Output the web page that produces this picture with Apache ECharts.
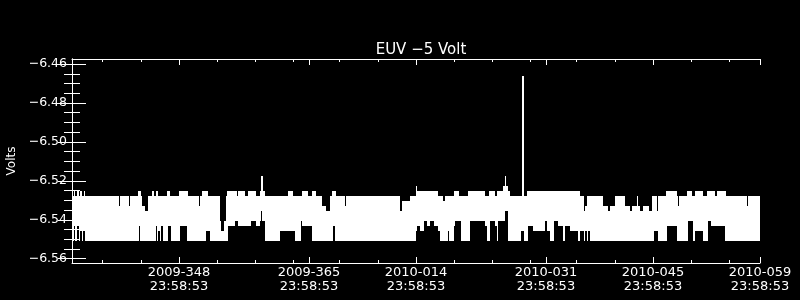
<!DOCTYPE html>
<html><head><meta charset="utf-8">
<script src="https://cdn.jsdelivr.net/npm/echarts@6/dist/echarts.min.js"></script>
<style>html,body{margin:0;padding:0;background:#000}#c{width:800px;height:300px}</style>
</head><body><div id="c"></div>
<script>
// x axis: days since 2009-334 23:58:53
var xMin = 0, xMax = 90;
var xTickDays = [14, 31, 45, 62, 76, 90];
var xTickLabels = ['2009-348\n23:58:53', '2009-365\n23:58:53', '2010-014\n23:58:53', '2010-031\n23:58:53', '2010-045\n23:58:53', '2010-059\n23:58:53'];
var xMinorDays = [4, 9, 19, 24, 29, 35, 40, 50, 55, 60, 66, 71, 81, 86];
var yMin = -6.5622, yMax = -6.4574;
var yTicks = [-6.56, -6.54, -6.52, -6.50, -6.48, -6.46];
var yMinor = [-6.555, -6.55, -6.545, -6.535, -6.53, -6.525, -6.515, -6.51, -6.505, -6.495, -6.49, -6.485, -6.475, -6.47, -6.465];

// signal envelope per run: start day, max volts, min volts (run lasts until next start)
var runStart = [0.00,0.22,0.42,0.62,0.88,1.01,1.27,1.36,1.53,1.70,6.15,6.33,7.46,7.59,8.64,8.77,8.90,8.99,9.12,9.51,
10.00,10.52,10.69,10.95,11.12,11.31,11.48,11.70,11.91,12.43,12.56,12.88,13.01,14.00,14.09,15.05,15.14,16.58,16.71,16.97,
17.59,17.80,18.02,19.33,19.55,19.85,20.08,20.34,20.42,21.29,21.52,21.72,22.60,23.03,23.48,24.13,24.56,24.70,24.87,25.00,
25.31,27.18,28.27,28.92,29.14,30.02,30.15,30.89,31.33,31.46,31.98,32.64,33.20,33.73,33.95,34.08,34.34,34.51,35.69,35.78,
42.89,43.11,44.19,44.98,45.15,45.50,46.07,46.38,46.81,47.34,47.90,48.12,48.55,48.77,49.13,49.30,49.95,50.08,50.65,50.83,
51.82,52.05,54.01,54.23,54.57,54.66,55.32,55.54,55.75,56.37,56.59,56.72,56.98,57.06,57.28,58.72,58.85,59.10,59.47,59.68,
60.33,61.93,62.12,62.52,63.04,63.56,64.26,64.48,65.13,66.18,66.44,66.97,67.16,67.32,67.49,67.75,69.49,70.11,70.37,71.02,
72.33,72.99,73.25,73.86,74.07,74.29,74.73,75.47,75.83,76.13,76.48,76.61,77.70,77.79,79.10,79.23,79.40,80.41,80.54,81.06,
81.27,81.49,82.58,83.02,83.16,83.55,84.11,84.33,85.42,85.55,88.26,88.39];
var runHi = [-6.5277,-6.5251,-6.5277,-6.5251,-6.5277,-6.5251,-6.5277,-6.5277,-6.5251,-6.5277,-6.5329,-6.5277,-6.5329,-6.5277,-6.5251,-6.5251,-6.5251,-6.5277,-6.5329,-6.5355,
-6.5277,-6.5251,-6.5277,-6.5251,-6.5251,-6.5277,-6.5277,-6.5277,-6.5277,-6.5251,-6.5251,-6.5277,-6.5277,-6.5251,-6.5251,-6.5251,-6.5277,-6.5329,-6.5277,-6.5251,
-6.5251,-6.5277,-6.5277,-6.5407,-6.5459,-6.5407,-6.5277,-6.5251,-6.5251,-6.5251,-6.5277,-6.5251,-6.5277,-6.5251,-6.5251,-6.5277,-6.5251,-6.5173,-6.5173,-6.5251,
-6.5277,-6.5277,-6.5251,-6.5277,-6.5277,-6.5277,-6.5251,-6.5277,-6.5277,-6.5251,-6.5277,-6.5329,-6.5355,-6.5277,-6.5251,-6.5251,-6.5251,-6.5277,-6.5329,-6.5277,
-6.5355,-6.5303,-6.5277,-6.5225,-6.5251,-6.5251,-6.5251,-6.5251,-6.5251,-6.5251,-6.5277,-6.5277,-6.5303,-6.5277,-6.5277,-6.5277,-6.5251,-6.5251,-6.5277,-6.5277,
-6.5251,-6.5251,-6.5277,-6.5277,-6.5251,-6.5251,-6.5277,-6.5251,-6.5251,-6.5225,-6.5173,-6.5225,-6.5251,-6.5251,-6.5277,-6.5277,-6.4660,-6.5277,-6.5251,-6.5251,
-6.5251,-6.5251,-6.5251,-6.5251,-6.5251,-6.5251,-6.5251,-6.5251,-6.5251,-6.5251,-6.5277,-6.5355,-6.5329,-6.5277,-6.5277,-6.5277,-6.5329,-6.5355,-6.5329,-6.5277,
-6.5329,-6.5355,-6.5329,-6.5277,-6.5329,-6.5355,-6.5329,-6.5355,-6.5277,-6.5277,-6.5355,-6.5277,-6.5251,-6.5251,-6.5277,-6.5329,-6.5277,-6.5251,-6.5251,-6.5277,
-6.5277,-6.5251,-6.5277,-6.5251,-6.5251,-6.5251,-6.5277,-6.5251,-6.5251,-6.5277,-6.5329,-6.5277];
var runLo = [-6.5511,-6.5433,-6.5511,-6.5433,-6.5511,-6.5459,-6.5511,-6.5459,-6.5459,-6.5511,-6.5511,-6.5511,-6.5511,-6.5511,-6.5511,-6.5433,-6.5511,-6.5511,-6.5511,-6.5511,
-6.5511,-6.5511,-6.5511,-6.5433,-6.5511,-6.5459,-6.5511,-6.5433,-6.5511,-6.5511,-6.5433,-6.5433,-6.5511,-6.5511,-6.5433,-6.5511,-6.5511,-6.5511,-6.5511,-6.5511,
-6.5459,-6.5459,-6.5511,-6.5511,-6.5511,-6.5511,-6.5511,-6.5511,-6.5433,-6.5407,-6.5407,-6.5433,-6.5433,-6.5433,-6.5407,-6.5433,-6.5407,-6.5355,-6.5407,-6.5407,
-6.5511,-6.5459,-6.5459,-6.5459,-6.5511,-6.5407,-6.5433,-6.5433,-6.5511,-6.5511,-6.5511,-6.5511,-6.5511,-6.5511,-6.5511,-6.5433,-6.5511,-6.5511,-6.5511,-6.5511,
-6.5511,-6.5511,-6.5511,-6.5459,-6.5433,-6.5459,-6.5407,-6.5433,-6.5407,-6.5433,-6.5459,-6.5511,-6.5511,-6.5511,-6.5459,-6.5511,-6.5433,-6.5407,-6.5407,-6.5511,
-6.5511,-6.5407,-6.5433,-6.5511,-6.5511,-6.5407,-6.5433,-6.5511,-6.5407,-6.5407,-6.5355,-6.5355,-6.5407,-6.5511,-6.5511,-6.5459,-6.5459,-6.5511,-6.5511,-6.5433,
-6.5459,-6.5407,-6.5459,-6.5511,-6.5407,-6.5433,-6.5511,-6.5433,-6.5459,-6.5511,-6.5459,-6.5511,-6.5459,-6.5511,-6.5459,-6.5511,-6.5511,-6.5511,-6.5511,-6.5511,
-6.5511,-6.5511,-6.5511,-6.5511,-6.5511,-6.5511,-6.5511,-6.5511,-6.5511,-6.5459,-6.5459,-6.5511,-6.5511,-6.5433,-6.5511,-6.5511,-6.5511,-6.5511,-6.5407,-6.5407,
-6.5511,-6.5459,-6.5511,-6.5511,-6.5407,-6.5433,-6.5433,-6.5433,-6.5511,-6.5511,-6.5511,-6.5511];

var data = [];
for (var i = 0; i < runStart.length; i++) {
  var end = (i + 1 < runStart.length) ? runStart[i + 1] : xMax;
  data.push([runStart[i], end, runHi[i], runLo[i]]);
}

var FONT = 'DejaVu Sans';
var W = '#ffffff';
function xLab(v) {
  for (var i = 0; i < xTickDays.length; i++) if (Math.abs(v - xTickDays[i]) < 1e-6) return xTickLabels[i];
  return '';
}
function yLab(v) { return (v < 0 ? '\u2212' : '') + Math.abs(v).toFixed(2); }

function xAxisDef(pos, major, showLine, showLabel) {
  return {
    type: 'value', min: xMin, max: xMax, position: pos, gridIndex: 0,
    axisLine: { show: showLine, lineStyle: { color: W, width: 1 } },
    axisTick: { show: true, inside: true, length: major ? 6 : 3, customValues: major ? xTickDays : xMinorDays, lineStyle: { color: W, width: 1 } },
    axisLabel: { show: showLabel, customValues: xTickDays, formatter: xLab, color: W, fontFamily: FONT, fontSize: 13, lineHeight: 14, margin: 3 },
    splitLine: { show: false }
  };
}
function yAxisDef(pos, major, showLine, showLabel) {
  var a = {
    type: 'value', min: yMin, max: yMax, position: pos, gridIndex: 0,
    axisLine: { show: showLine, lineStyle: { color: W, width: 1 } },
    axisTick: { show: true, inside: true, length: major ? 14 : 8, customValues: major ? yTicks : yMinor, lineStyle: { color: W, width: 1 } },
    axisLabel: { show: showLabel, customValues: yTicks, formatter: yLab, color: W, fontFamily: FONT, fontSize: 12.5, margin: 5 },
    splitLine: { show: false }
  };
  if (showLabel) {
    a.name = 'Volts'; a.nameLocation = 'middle'; a.nameGap = 54; a.nameRotate = 90;
    a.nameTextStyle = { color: W, fontFamily: FONT, fontSize: 12 };
  }
  return a;
}

var chart = echarts.init(document.getElementById('c'), null, { renderer: 'canvas' });
chart.setOption({
  backgroundColor: '#000000',
  animation: false,
  title: { text: 'EUV \u22125 Volt', left: 416, top: 38, textAlign: 'center',
    textStyle: { color: W, fontFamily: FONT, fontSize: 15, fontWeight: 'normal' } },
  grid: { left: 72, right: 40, top: 59, bottom: 37, containLabel: false, outerBoundsMode: 'none' },
  xAxis: [xAxisDef('bottom', true, true, true), xAxisDef('bottom', false, false, false),
          xAxisDef('top', true, true, false), xAxisDef('top', false, false, false)],
  yAxis: [yAxisDef('left', true, true, true), yAxisDef('left', false, false, false),
          yAxisDef('right', true, true, false), yAxisDef('right', false, false, false)],
  series: [{
    type: 'custom', xAxisIndex: 0, yAxisIndex: 0, clip: true,
    encode: { x: [0, 1], y: [2, 3] },
    renderItem: function (params, api) {
      var p0 = api.coord([api.value(0), api.value(2)]);
      var p1 = api.coord([api.value(1), api.value(3)]);
      var x0 = Math.round(p0[0]), x1 = Math.round(p1[0]);
      var y0 = Math.round(p0[1]), y1 = Math.round(p1[1]);
      return { type: 'rect', shape: { x: x0, y: y0, width: Math.max(x1 - x0, 1), height: y1 - y0 },
               style: { fill: W, stroke: null } };
    },
    data: data
  }]
});
</script></body></html>
